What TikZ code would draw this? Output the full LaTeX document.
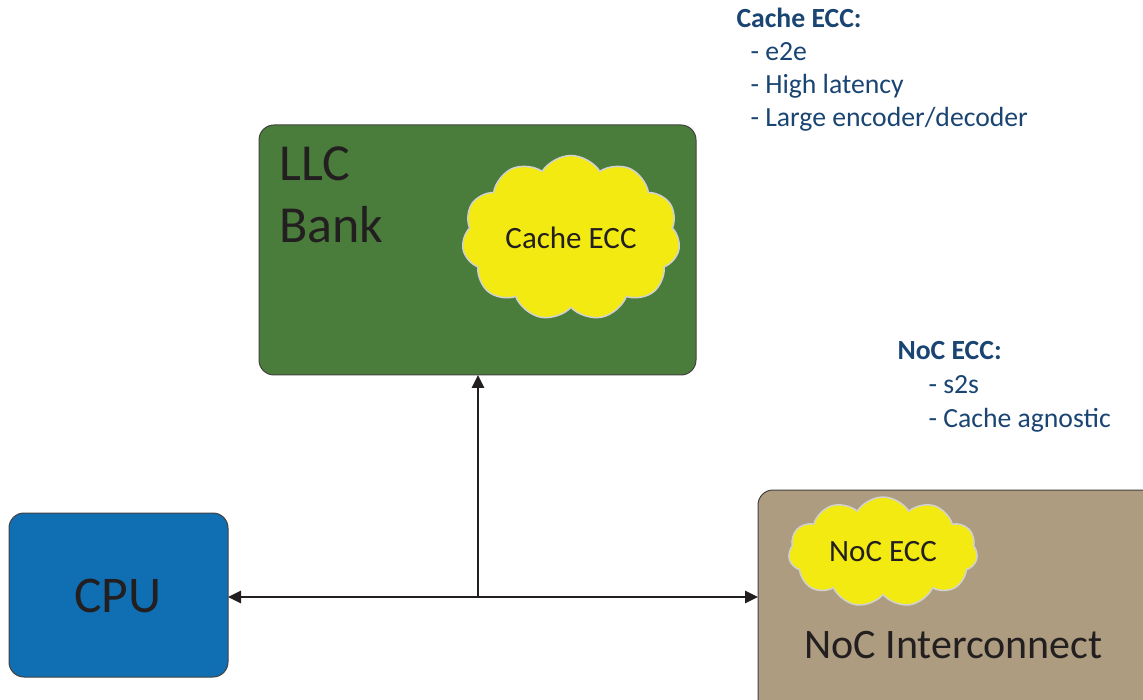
\documentclass[tikz,border=0pt]{standalone}
\usepackage{fontspec}
\setmainfont{Carlito}
\usetikzlibrary{shapes.symbols,arrows.meta}
\definecolor{llcgreen}{HTML}{4A7D3B}
\definecolor{cpublue}{HTML}{106EB3}
\definecolor{noctan}{HTML}{AD9C7F}
\definecolor{eccyellow}{HTML}{F2EA10}
\definecolor{notecol}{HTML}{1A4573}
\definecolor{inkcol}{HTML}{231F20}
\tikzset{
  unitbox/.style={draw=inkcol!85, line width=1pt, rounded corners=15pt},
  eccloud/.style={cloud, cloud puffs=11, cloud puff arc=115, cloud ignores aspect,
    fill=eccyellow, draw=black!18, line width=1.5pt, inner sep=0pt, text=inkcol},
  link/.style={draw=inkcol, line width=2.8pt, -{Triangle[length=13pt,width=12pt]}},
  note/.style={anchor=base west, text=notecol, font=\fontsize{27.7}{33}\selectfont},
}
\begin{document}
\begin{tikzpicture}[x=1pt,y=-1pt]
\useasboundingbox (0,0) rectangle (1143,700);

% LLC bank with its cache ECC
\draw[unitbox, fill=llcgreen] (259,125) rectangle (696,375);
\node (llc) [anchor=north west, align=left, text=inkcol, inner sep=0pt,
  font=\fontsize{52}{62}\selectfont] at (279,146.5) {LLC\\Bank};
\coordinate (llcbottom) at (478,375);
\node (cacheecc) [eccloud, minimum width=218pt, minimum height=165pt,
  font=\fontsize{31}{36}\selectfont] at (571,238) {Cache ECC};

% CPU
\draw[unitbox, fill=cpublue] (9,513) rectangle (228,677);
\node (cpu) [text=inkcol, font=\fontsize{51.5}{58}\selectfont] at (118,596) {CPU};
\coordinate (cpuright) at (228,597);

% NoC interconnect with its ECC
\draw[unitbox, fill=noctan] (758,490) rectangle (1160,715);
\node (noc) [text=inkcol, inner sep=0pt, font=\fontsize{42}{48}\selectfont] at (953.5,645.5) {NoC Interconnect};
\coordinate (nocleft) at (758,597);
\node (nocecc) [eccloud, minimum width=189pt, minimum height=110pt,
  font=\fontsize{31}{36}\selectfont] at (883,552) {NoC ECC};

% connectors
\coordinate (junction) at (478,597);
\draw[link] (junction) -- (cpuright);
\draw[link] (junction) -- (nocleft);
\draw[link] (junction) -- (llcbottom);

% notes
\node (n1) [note] at (733,28) {\textbf{Cache ECC:}};
\node (n2) [note] at (747,61) {- e2e};
\node (n3) [note] at (747,94) {- High latency};
\node (n4) [note] at (747,127) {- Large encoder/decoder};
\node (n5) [note] at (894,360) {\textbf{NoC ECC:}};
\node (n6) [note] at (925,393) {- s2s};
\node (n7) [note] at (925,427) {- Cache agnostic};
\end{tikzpicture}
\end{document}
